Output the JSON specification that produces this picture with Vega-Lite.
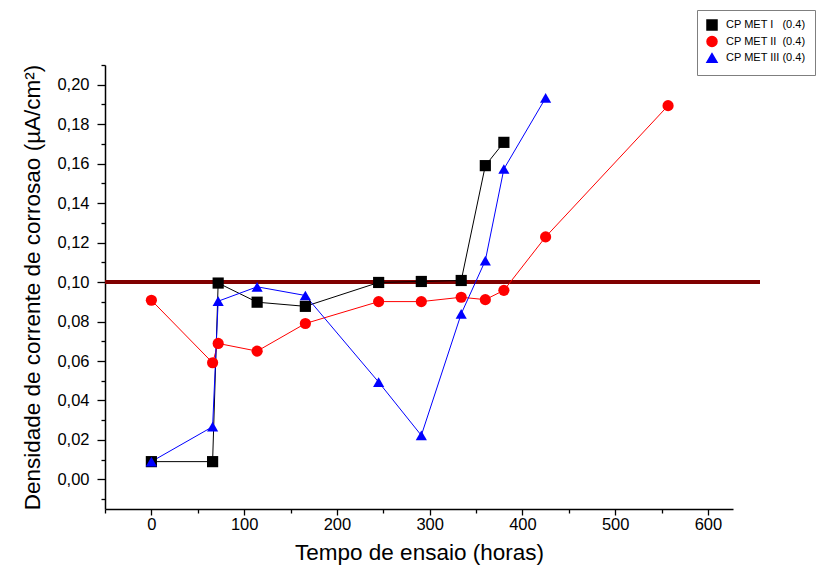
{
  "$schema": "https://vega.github.io/schema/vega-lite/v6.json",
  "autosize": {"type": "none"},
  "padding": {"left": 105, "top": 65, "right": 106, "bottom": 58},
  "width": 628,
  "height": 444,
  "background": "white",
  "config": {
    "font": "Liberation Sans",
    "view": {"stroke": null},
    "axis": {
      "grid": false,
      "domainColor": "#000000",
      "domainWidth": 1.5,
      "tickColor": "#000000",
      "tickWidth": 1.3,
      "labelColor": "#000000",
      "titleColor": "#000000",
      "labelFont": "Liberation Sans",
      "titleFont": "Liberation Sans",
      "labelFontSize": 16.5,
      "titleFontSize": 22.5,
      "titleFontWeight": "normal"
    },
    "legend": {
      "labelFont": "Liberation Sans",
      "labelFontSize": 11,
      "labelColor": "#000000"
    }
  },
  "datasets": {
    "pontos": [
      {"serie": "I", "tempo": 0, "densidade": 0.009},
      {"serie": "I", "tempo": 66, "densidade": 0.009},
      {"serie": "I", "tempo": 72, "densidade": 0.0995},
      {"serie": "I", "tempo": 114, "densidade": 0.0898},
      {"serie": "I", "tempo": 166, "densidade": 0.0877},
      {"serie": "I", "tempo": 245, "densidade": 0.0998},
      {"serie": "I", "tempo": 291, "densidade": 0.1003},
      {"serie": "I", "tempo": 334, "densidade": 0.1008},
      {"serie": "I", "tempo": 360, "densidade": 0.159},
      {"serie": "I", "tempo": 380, "densidade": 0.1708},
      {"serie": "II", "tempo": 0, "densidade": 0.0908},
      {"serie": "II", "tempo": 66, "densidade": 0.0591},
      {"serie": "II", "tempo": 72, "densidade": 0.0689},
      {"serie": "II", "tempo": 114, "densidade": 0.065},
      {"serie": "II", "tempo": 166, "densidade": 0.079},
      {"serie": "II", "tempo": 245, "densidade": 0.0901},
      {"serie": "II", "tempo": 291, "densidade": 0.0901},
      {"serie": "II", "tempo": 334, "densidade": 0.0923},
      {"serie": "II", "tempo": 360, "densidade": 0.0911},
      {"serie": "II", "tempo": 380, "densidade": 0.0958},
      {"serie": "II", "tempo": 425, "densidade": 0.1229},
      {"serie": "II", "tempo": 557, "densidade": 0.1894},
      {"serie": "III", "tempo": 0, "densidade": 0.009},
      {"serie": "III", "tempo": 66, "densidade": 0.0267},
      {"serie": "III", "tempo": 72, "densidade": 0.0903},
      {"serie": "III", "tempo": 114, "densidade": 0.0976},
      {"serie": "III", "tempo": 166, "densidade": 0.0932},
      {"serie": "III", "tempo": 245, "densidade": 0.0493},
      {"serie": "III", "tempo": 291, "densidade": 0.0223},
      {"serie": "III", "tempo": 334, "densidade": 0.0839},
      {"serie": "III", "tempo": 360, "densidade": 0.1109},
      {"serie": "III", "tempo": 380, "densidade": 0.1573},
      {"serie": "III", "tempo": 425, "densidade": 0.1933}
    ]
  },
  "data": {"name": "pontos"},
  "encoding": {
    "x": {
      "field": "tempo",
      "type": "quantitative",
      "title": "Tempo de ensaio (horas)",
      "scale": {"domain": [-50, 627], "nice": false, "zero": false},
      "axis": {
        "values": [-50, 0, 50, 100, 150, 200, 250, 300, 350, 400, 450, 500, 550, 600],
        "labelExpr": "(datum.value % 100 == 0 && datum.value >= 0) ? format(datum.value, 'd') : ''",
        "tickSize": {"condition": {"test": "datum.value % 100 == 0", "value": 6}, "value": 4},
        "labelPadding": 1,
        "titlePadding": 9,
        "labelFlush": false,
        "labelOverlap": false
      }
    },
    "y": {
      "field": "densidade",
      "type": "quantitative",
      "title": "Densidade de corrente de corrosao (µA/cm²)",
      "scale": {"domain": [-0.015, 0.21], "nice": false, "zero": false},
      "axis": {
        "values": [-0.01, 0, 0.01, 0.02, 0.03, 0.04, 0.05, 0.06, 0.07, 0.08, 0.09, 0.1, 0.11, 0.12, 0.13, 0.14, 0.15, 0.16, 0.17, 0.18, 0.19, 0.2, 0.21],
        "labelExpr": "(round(datum.value * 100) % 2 == 0 && datum.value > -0.005 && datum.value < 0.205) ? replace(format(datum.value, '.2f'), '.', ',') : ''",
        "tickSize": {"condition": {"test": "round(datum.value * 100) % 2 == 0", "value": 8}, "value": 4},
        "labelPadding": 8,
        "titlePadding": 12,
        "labelFlush": false,
        "labelOverlap": false
      }
    }
  },
  "layer": [
    {
      "mark": {"type": "rule", "color": "#800000", "strokeWidth": 3.2},
      "encoding": {
        "x": {"datum": -50},
        "x2": {"datum": 656},
        "y": {"datum": 0.1}
      }
    },
    {
      "mark": {"type": "line", "strokeWidth": 1},
      "encoding": {
        "color": {
          "field": "serie",
          "type": "nominal",
          "scale": {"domain": ["I", "II", "III"], "range": ["#000000", "#ff0000", "#0000ff"]}
        }
      }
    },
    {
      "mark": {"type": "point", "filled": true, "opacity": 1, "size": 125},
      "encoding": {
        "shape": {
          "field": "serie",
          "type": "nominal",
          "scale": {"domain": ["I", "II", "III"], "range": ["square", "circle", "triangle-up"]},
          "legend": null
        },
        "color": {
          "field": "serie",
          "type": "nominal",
          "legend": {
            "title": null,
            "orient": "none",
            "legendX": 592,
            "legendY": -55,
            "padding": 9,
            "strokeColor": "#7f7f7f",
            "fillColor": "#ffffff",
            "symbolSize": 100,
            "rowPadding": 0.5,
            "labelOffset": 8,
            "labelExpr": "datum.value == 'I' ? 'CP MET I\u00a0\u00a0\u00a0(0.4)' : (datum.value == 'II' ? 'CP MET II\u00a0\u00a0(0.4)' : 'CP MET III (0.4)')"
          }
        }
      }
    }
  ]
}
